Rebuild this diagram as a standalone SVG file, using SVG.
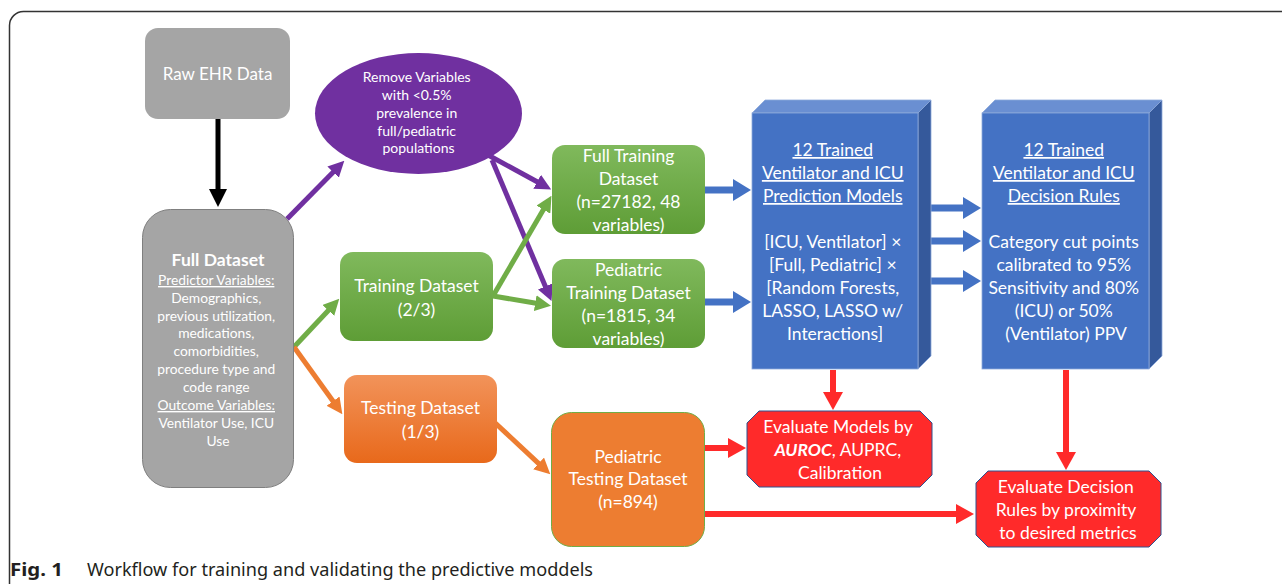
<svg xmlns="http://www.w3.org/2000/svg" width="1282" height="584" viewBox="0 0 1282 584">
<defs>
<style>
.t{font-family:Lato,"Liberation Sans",sans-serif;fill:#fff;text-anchor:middle}
.b16{font-size:17.5px}
.u{text-decoration:underline}
.ln{fill:none;stroke-linecap:butt}
</style>
<linearGradient id="gG" x1="0" y1="0" x2="0" y2="1"><stop offset="0" stop-color="#80b95c"/><stop offset="1" stop-color="#5e9d36"/></linearGradient>
<linearGradient id="gO" x1="0" y1="0" x2="0" y2="1"><stop offset="0" stop-color="#f2935a"/><stop offset="1" stop-color="#e8691b"/></linearGradient>
<marker id="mK" markerUnits="userSpaceOnUse" viewBox="0 0 18 18" markerWidth="18" markerHeight="18" refX="1" refY="9" orient="auto"><path d="M0,0L18,9L0,18z" fill="#000"/></marker>
<marker id="mP" markerUnits="userSpaceOnUse" viewBox="0 0 16 16" markerWidth="16" markerHeight="16" refX="1" refY="8" orient="auto"><path d="M0,0L16,8L0,16z" fill="#7030a0"/></marker>
<marker id="mG" markerUnits="userSpaceOnUse" viewBox="0 0 16 16" markerWidth="16" markerHeight="16" refX="1" refY="8" orient="auto"><path d="M0,0L16,8L0,16z" fill="#70ad47"/></marker>
<marker id="mO" markerUnits="userSpaceOnUse" viewBox="0 0 16 16" markerWidth="16" markerHeight="16" refX="1" refY="8" orient="auto"><path d="M0,0L16,8L0,16z" fill="#ed7d31"/></marker>
<marker id="mB" markerUnits="userSpaceOnUse" viewBox="0 0 18 22" markerWidth="18" markerHeight="22" refX="1" refY="11" orient="auto"><path d="M0,0L18,11L0,22z" fill="#4472c4"/></marker>
<marker id="mR" markerUnits="userSpaceOnUse" viewBox="0 0 18 20" markerWidth="18" markerHeight="20" refX="1" refY="10" orient="auto"><path d="M0,0L18,10L0,20z" fill="#ff2a2a"/></marker>
</defs>
<rect x="0" y="0" width="1282" height="584" fill="#fff"/>
<rect x="9.5" y="11.5" width="1320" height="620" rx="14" fill="none" stroke="#333" stroke-width="1.5"/>

<g id="connectors">
<path class="ln" d="M218,119V190" stroke="#000" stroke-width="5" marker-end="url(#mK)"/>
<path class="ln" d="M287,219L333.8,171.4" stroke="#7030a0" stroke-width="5" marker-end="url(#mP)"/>
<path class="ln" d="M488,155L538,182.3" stroke="#7030a0" stroke-width="5" marker-end="url(#mP)"/>
<path class="ln" d="M492,160L545.7,287.3" stroke="#7030a0" stroke-width="5" marker-end="url(#mP)"/>
<path class="ln" d="M294,347L329,309.7" stroke="#70ad47" stroke-width="5" marker-end="url(#mG)"/>
<path class="ln" d="M493,296L543.9,208.8" stroke="#70ad47" stroke-width="5" marker-end="url(#mG)"/>
<path class="ln" d="M493,296L536.2,303.3" stroke="#70ad47" stroke-width="5" marker-end="url(#mG)"/>
<path class="ln" d="M294,347L333.6,402" stroke="#ed7d31" stroke-width="5" marker-end="url(#mO)"/>
<path class="ln" d="M492,420L539.3,464.1" stroke="#ed7d31" stroke-width="5" marker-end="url(#mO)"/>
<path class="ln" d="M705,190H734" stroke="#4472c4" stroke-width="7" marker-end="url(#mB)"/>
<path class="ln" d="M705,302H734" stroke="#4472c4" stroke-width="7" marker-end="url(#mB)"/>
<path class="ln" d="M920,208H964" stroke="#4472c4" stroke-width="7" marker-end="url(#mB)"/>
<path class="ln" d="M918,241H964" stroke="#4472c4" stroke-width="7" marker-end="url(#mB)"/>
<path class="ln" d="M918,281H964" stroke="#4472c4" stroke-width="7" marker-end="url(#mB)"/>
<path class="ln" d="M833,370V393" stroke="#ff2a2a" stroke-width="6" marker-end="url(#mR)"/>
<path class="ln" d="M704,448H729" stroke="#ff2a2a" stroke-width="6" marker-end="url(#mR)"/>
<path class="ln" d="M704,514H957" stroke="#ff2a2a" stroke-width="6" marker-end="url(#mR)"/>
<path class="ln" d="M1066,370V453" stroke="#ff2a2a" stroke-width="6" marker-end="url(#mR)"/>
</g>

<g id="raw-ehr">
<rect x="145" y="28" width="145" height="91" rx="13" fill="#a5a5a5"/>
<text class="t" x="217.5" y="80" font-size="17">Raw EHR Data</text>
</g>

<g id="full-dataset">
<rect x="142.5" y="209.5" width="151" height="278" rx="28" fill="#a5a5a5" stroke="#7f7f7f" stroke-width="1"/>
<text class="t" x="218" y="266" font-size="17.5" font-weight="bold">Full Dataset</text>
<text class="t" x="218" font-size="13.8">
<tspan class="u" x="218" y="285">Predictor Variables:</tspan>
<tspan x="218" y="303">Demographics,</tspan>
<tspan x="218" y="320.5">previous utilization,</tspan>
<tspan x="218" y="338">medications,</tspan>
<tspan x="218" y="356">comorbidities,</tspan>
<tspan x="218" y="374">procedure type and</tspan>
<tspan x="218" y="392">code range</tspan>
<tspan class="u" x="218" y="410">Outcome Variables:</tspan>
<tspan x="218" y="428">Ventilator Use, ICU</tspan>
<tspan x="218" y="446">Use</tspan>
</text>
</g>

<g id="remove-variables">
<ellipse cx="418.5" cy="113.5" rx="103.5" ry="60.5" fill="#7030a0"/>
<text class="t" font-size="14">
<tspan x="418.5" y="82">Remove Variables</tspan>
<tspan x="418.5" y="100">with &lt;0.5%</tspan>
<tspan x="418.5" y="118">prevalence in</tspan>
<tspan x="418.5" y="135.5">full/pediatric</tspan>
<tspan x="418.5" y="153">populations</tspan>
</text>
</g>

<g id="training-dataset">
<rect x="340" y="252" width="153" height="89" rx="13" fill="url(#gG)"/>
<text class="t b16"><tspan x="416.5" y="292">Training Dataset</tspan><tspan x="416.5" y="316">(2/3)</tspan></text>
</g>

<g id="testing-dataset">
<rect x="344" y="375" width="153" height="88" rx="13" fill="url(#gO)"/>
<text class="t b16"><tspan x="420.5" y="414">Testing Dataset</tspan><tspan x="420.5" y="438">(1/3)</tspan></text>
</g>

<g id="full-training">
<rect x="552" y="145" width="153" height="89" rx="13" fill="url(#gG)"/>
<text class="t b16"><tspan x="628.5" y="162">Full Training</tspan><tspan x="628.5" y="185">Dataset</tspan><tspan x="628.5" y="208">(n=27182, 48</tspan><tspan x="628.5" y="231">variables)</tspan></text>
</g>

<g id="pediatric-training">
<rect x="552" y="259" width="153" height="89" rx="13" fill="url(#gG)"/>
<text class="t b16"><tspan x="628.5" y="276">Pediatric</tspan><tspan x="628.5" y="299">Training Dataset</tspan><tspan x="628.5" y="322">(n=1815, 34</tspan><tspan x="628.5" y="345">variables)</tspan></text>
</g>

<g id="pediatric-testing">
<rect x="551.5" y="412.5" width="153" height="134" rx="20" fill="#ed7d31" stroke="#70ad47" stroke-width="1"/>
<text class="t b16"><tspan x="628" y="463">Pediatric</tspan><tspan x="628" y="485">Testing Dataset</tspan><tspan x="628" y="508">(n=894)</tspan></text>
</g>

<g id="prediction-models">
<polygon points="752,113 765,100 931,100 918,113" fill="#6a8fd2" stroke="#8eaadb" stroke-width="0.8"/>
<polygon points="918,113 931,100 931,356 918,369" fill="#35599b" stroke="#8eaadb" stroke-width="0.8"/>
<rect x="752" y="113" width="166" height="256" fill="#4472c4" stroke="#8eaadb" stroke-width="0.8"/>
<text class="t b16">
<tspan class="u" x="835" y="156">12 Trained</tspan>
<tspan class="u" x="835" y="179">Ventilator and ICU</tspan>
<tspan class="u" x="835" y="202">Prediction Models</tspan>
<tspan x="835" y="248">[ICU, Ventilator] ×</tspan>
<tspan x="835" y="271">[Full, Pediatric] ×</tspan>
<tspan x="835" y="294">[Random Forests,</tspan>
<tspan x="835" y="317">LASSO, LASSO w/</tspan>
<tspan x="835" y="340">Interactions]</tspan>
</text>
</g>

<g id="decision-rules">
<polygon points="982,113 995,100 1162,100 1149,113" fill="#6a8fd2" stroke="#8eaadb" stroke-width="0.8"/>
<polygon points="1149,113 1162,100 1162,356 1149,369" fill="#35599b" stroke="#8eaadb" stroke-width="0.8"/>
<rect x="982" y="113" width="167" height="256" fill="#4472c4" stroke="#8eaadb" stroke-width="0.8"/>
<text class="t b16">
<tspan class="u" x="1066" y="156">12 Trained</tspan>
<tspan class="u" x="1066" y="179">Ventilator and ICU</tspan>
<tspan class="u" x="1066" y="202">Decision Rules</tspan>
<tspan x="1066" y="248">Category cut points</tspan>
<tspan x="1066" y="271">calibrated to 95%</tspan>
<tspan x="1066" y="294">Sensitivity and 80%</tspan>
<tspan x="1066" y="317">(ICU) or 50%</tspan>
<tspan x="1066" y="340">(Ventilator) PPV</tspan>
</text>
</g>

<g id="evaluate-models">
<polygon points="759,411 920,411 932,423 932,475 920,487 759,487 747,475 747,423" fill="#ff2a2a" stroke="#2f528f" stroke-width="1"/>
<text class="t b16">
<tspan x="840" y="433">Evaluate Models by</tspan>
<tspan x="840" y="456"><tspan font-weight="bold" font-style="italic">AUROC</tspan>, AUPRC,</tspan>
<tspan x="840" y="479">Calibration</tspan>
</text>
</g>

<g id="evaluate-rules">
<polygon points="988,471 1149,471 1161,483 1161,535 1149,547 988,547 976,535 976,483" fill="#ff2a2a" stroke="#2f528f" stroke-width="1"/>
<text class="t b16">
<tspan x="1068" y="493">Evaluate Decision</tspan>
<tspan x="1068" y="516">Rules by proximity</tspan>
<tspan x="1068" y="539">to desired metrics</tspan>
</text>
</g>

<g id="caption">
<text x="10" y="576" font-family="'Noto Sans','Liberation Sans',sans-serif" font-size="18" font-weight="bold" fill="#231f20" textLength="53" lengthAdjust="spacingAndGlyphs">Fig. 1</text>
<text x="87" y="576" font-family="'Noto Sans','Liberation Sans',sans-serif" font-size="18" fill="#231f20" textLength="506" lengthAdjust="spacingAndGlyphs">Workflow for training and validating the predictive moddels</text>
</g>
</svg>
